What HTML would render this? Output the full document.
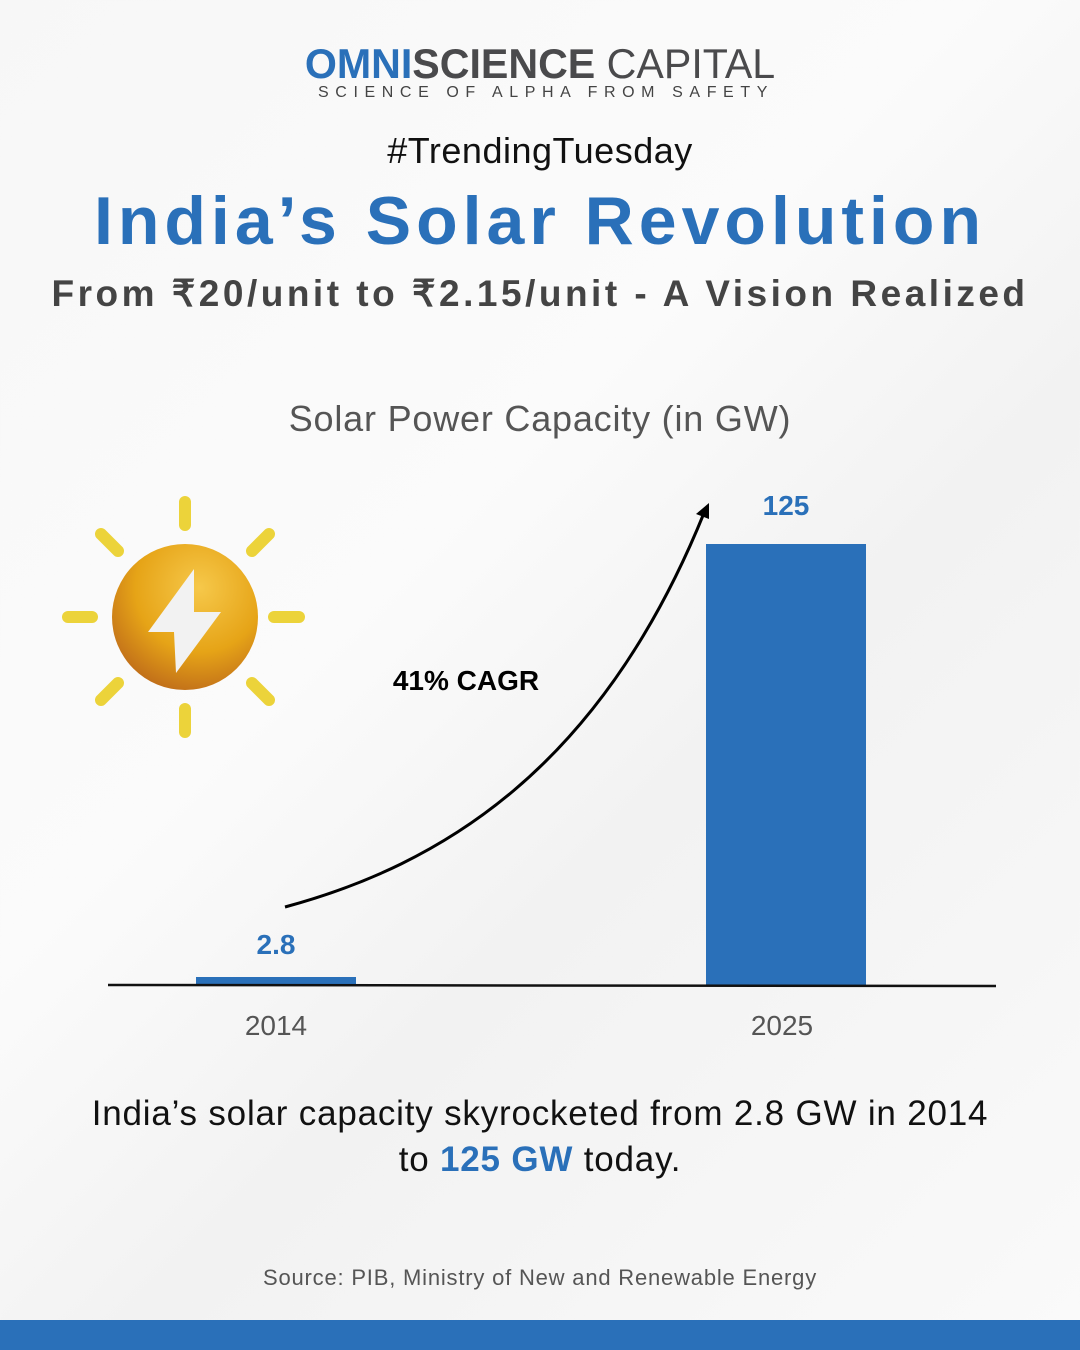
<!DOCTYPE html>
<html><head><meta charset="utf-8"><style>
html,body{margin:0;padding:0}
body{width:1080px;height:1350px;overflow:hidden;background:linear-gradient(135deg,#f7f7f7 0%,#fbfbfb 40%,#f2f2f2 60%,#fafafa 100%);position:relative;font-family:"Liberation Sans",sans-serif}
.t{position:absolute;left:0;width:1080px;text-align:center;white-space:nowrap}
</style></head><body>
<div class="t" style="top:40px;font-size:42px;font-weight:900;transform:scaleX(0.98)"><span style="color:#2a70b9">OMNI</span><span style="color:#4a4a4c">SCIENCE</span> <span style="color:#4a4a4c;font-weight:400">CAPITAL</span></div>
<div class="t" style="top:84px;font-size:16px;letter-spacing:6.6px;color:#444;padding-left:6px">SCIENCE OF ALPHA FROM SAFETY</div>
<div class="t" style="top:130px;font-size:36px;color:#111;letter-spacing:0.5px">#TrendingTuesday</div>
<div class="t" style="top:182px;font-size:68px;font-weight:bold;color:#2a70b9;letter-spacing:5px">India’s Solar Revolution</div>
<div class="t" style="top:272px;font-size:37px;font-weight:bold;color:#444;letter-spacing:3.5px">From ₹20/unit to ₹2.15/unit - A Vision Realized</div>
<div class="t" style="top:398px;font-size:36px;color:#555;letter-spacing:0.8px">Solar Power Capacity (in GW)</div>
<svg style="position:absolute;left:0;top:0" width="1080" height="1350">
<defs><radialGradient id="g" cx="0.6" cy="0.3" r="0.8"><stop offset="0" stop-color="#f6c84a"/><stop offset="0.55" stop-color="#e6a417"/><stop offset="1" stop-color="#b8621a"/></radialGradient></defs>
<g stroke="#ecd33a" stroke-width="12" stroke-linecap="round">
<line x1="185" y1="502" x2="185" y2="525"/><line x1="185" y1="709" x2="185" y2="732"/>
<line x1="68" y1="617" x2="92" y2="617"/><line x1="274" y1="617" x2="299" y2="617"/>
<line x1="101" y1="534" x2="118" y2="551"/><line x1="252" y1="683" x2="269" y2="700"/>
<line x1="252" y1="551" x2="269" y2="534"/><line x1="101" y1="700" x2="118" y2="683"/>
</g>
<circle cx="185" cy="617" r="73" fill="url(#g)"/>
<polygon points="194,569 148,632 174,632 176,673 221,612 194,612" fill="#f2f2f2"/>
<rect x="196" y="977" width="160" height="8" fill="#2a70b9"/>
<rect x="706" y="544" width="160" height="441" fill="#2a70b9"/>
<line x1="108" y1="985" x2="996" y2="986" stroke="#111" stroke-width="2.5"/>
<path d="M285,907 C440,865 600,770 704,513" fill="none" stroke="#000" stroke-width="3"/>
<polygon points="709,503 696,514 709,519" fill="#000"/>
<text x="276" y="954" font-size="28" font-weight="bold" fill="#2a70b9" text-anchor="middle" font-family="Liberation Sans">2.8</text>
<text x="786" y="515" font-size="28" font-weight="bold" fill="#2a70b9" text-anchor="middle" font-family="Liberation Sans">125</text>
<text x="466" y="690" font-size="28" font-weight="bold" fill="#000" text-anchor="middle" font-family="Liberation Sans">41% CAGR</text>
<text x="276" y="1035" font-size="28" fill="#555" text-anchor="middle" font-family="Liberation Sans">2014</text>
<text x="782" y="1035" font-size="28" fill="#555" text-anchor="middle" font-family="Liberation Sans">2025</text>
</svg>
<div class="t" style="top:1094px;font-size:35px;color:#111;letter-spacing:0.8px">India’s solar capacity skyrocketed from 2.8 GW in 2014</div>
<div class="t" style="top:1140px;font-size:35px;color:#111;letter-spacing:0.8px">to <b style="color:#2a70b9">125 GW</b> today.</div>
<div class="t" style="top:1265px;font-size:22px;color:#555;letter-spacing:0.8px">Source: PIB, Ministry of New and Renewable Energy</div>
<div style="position:absolute;left:0;top:1320px;width:1080px;height:30px;background:#2a70b9"></div>
</body></html>
